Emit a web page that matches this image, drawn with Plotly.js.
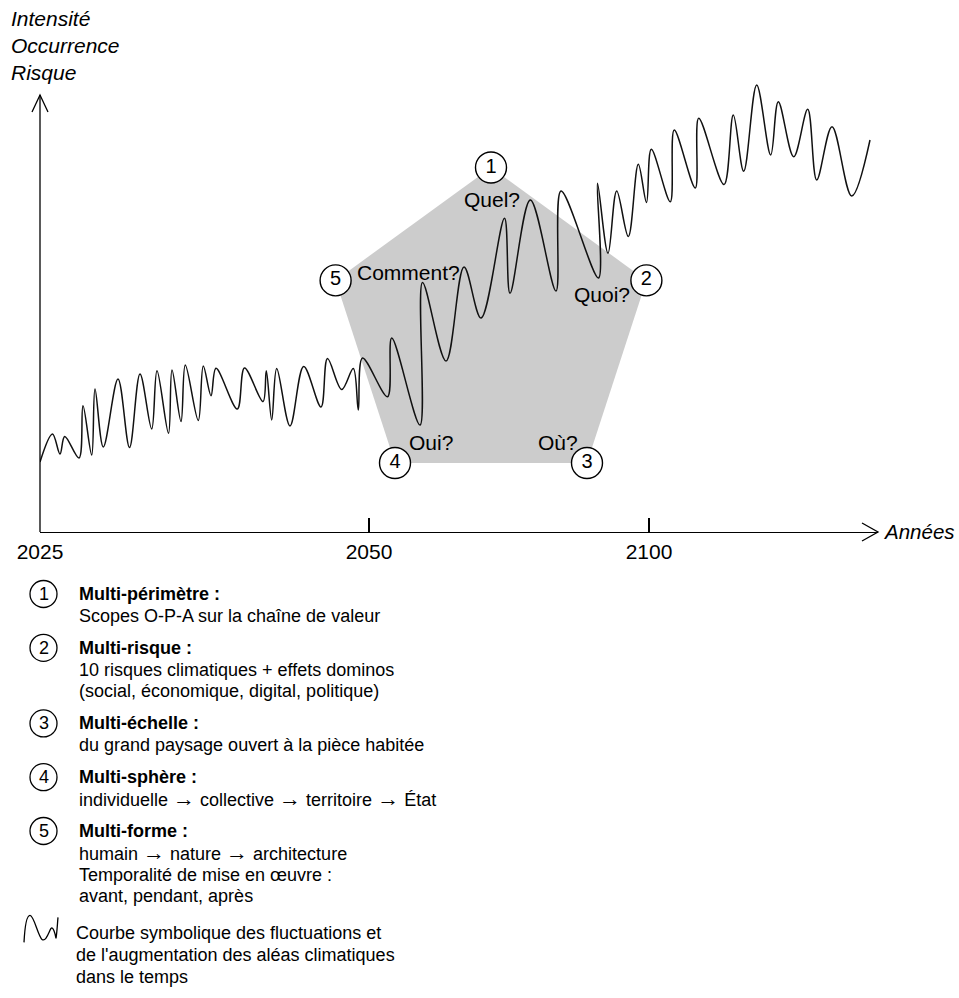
<!DOCTYPE html>
<html><head><meta charset="utf-8">
<script src="https://cdn.plot.ly/plotly-3.0.1.min.js"></script>
<style>html,body{margin:0;padding:0;background:#fff}</style>
</head><body><div id="chart" style="width:959px;height:998px"></div>
<script>
// ---- data (symbolic units) ----
const curveX = [0,12.5,20,24.7,39,43,51.7,55,63.3,78,89.5,100,111.7,117,128.5,132,141,145.3,158.3,163.3,171,176,197.3,204.5,223,226.3,231.7,236.7,250,263.7,281,287.5,301.7,313.3,318.3,322.5,347.5,351.7,380,382.5,406,424,441,464.5,470,490.3,516,521,558.5,557.5,568,576.7,588.3,598.3,606.5,611.3,630.3,634.2,655.3,658.7,684,693.3,703.7,716.7,730.7,738.3,753.7,767.7,776.7,792,811.7,830];
const curveY = [70,98,78,95.5,74,126.3,77,143,85,153,84.5,158,103,161.3,98.7,162,110.5,167,111.5,166,136.3,163.7,123,164,130.5,161.3,112,163.5,106,165.5,125,173.5,142.5,163.5,122,174,135.3,194,107,249.5,171,265,214,313.7,238.7,332,241,341,254,348.7,278.7,341,295.5,367.8,329.5,382.7,330.3,402,344,413.7,347.5,417,360.8,447,377,430.3,375.3,422.7,352,405.3,336,392];
const pentagonX = [451, 606.4, 547, 355, 295.6];
const pentagonY = [364.5, 251.6, 69, 69, 251.6];
const vertexNumbers = ['1','2','3','4','5'];
const vertexQuestions = ['Quel?','Quoi?','Où?','Oui?','Comment?'];
const tickVals = [0, 329, 609];
const tickLabels = ['2025','2050','2100'];
const yTitleLines = ['Intensité','Occurrence','Risque'];
const xTitle = 'Années';
const legendHeads = ['Multi-périmètre :','Multi-risque :','Multi-échelle :','Multi-sphère :','Multi-forme :'];
const legendLines = [
  ['Scopes O-P-A sur la chaîne de valeur'],
  ['10 risques climatiques + effets dominos','(social, économique, digital, politique)'],
  ['du grand paysage ouvert à la pièce habitée'],
  ['individuelle → collective → territoire → État'],
  ['humain → nature → architecture','Temporalité de mise en œuvre :','avant, pendant, après']
];
const curveNote = ['Courbe symbolique des fluctuations et',"de l'augmentation des aléas climatiques",'dans le temps'];

// ---- layout helpers (pixel -> paper) ----
const L = 40, R = 878, B = 532, T = 60;
const PX = p => (p - L) / (R - L);
const PY = p => (B - p) / (B - T);
const FONT = 'Liberation Sans, Arial, sans-serif';
const arrowFix = s => s.replace(/→/g, '<span style="font-size:22px">→</span>');

const traces = [
  {x: pentagonX, y: pentagonY, type: 'scatter', mode: 'lines', fill: 'toself',
   fillcolor: '#cccccc', line: {width: 0, color: 'rgba(0,0,0,0)'}, hoverinfo: 'skip', showlegend: false},
  {x: curveX, y: curveY, type: 'scatter', mode: 'lines',
   line: {color: '#111', width: 1.5, shape: 'spline', smoothing: 1}, hoverinfo: 'skip', showlegend: false},
  {x: pentagonX, y: pentagonY, type: 'scatter', mode: 'markers+text', text: vertexNumbers,
   textposition: 'middle center', textfont: {family: FONT, size: 20, color: '#000'},
   marker: {size: 31, color: '#fff', line: {color: '#000', width: 1.4}}, cliponaxis: false,
   hoverinfo: 'skip', showlegend: false}
];

const ann = [];
const shapes = [];
const qPos = [[452, 333], [562, 238], [518, 90], [391, 90], [368, 260]];
vertexQuestions.forEach((q, i) => ann.push({x: qPos[i][0], y: qPos[i][1], xref: 'x', yref: 'y', text: q,
  xanchor: 'center', yanchor: 'middle', showarrow: false, font: {family: FONT, size: 21, color: '#000'}}));
yTitleLines.forEach((t, i) => ann.push({x: PX(9), y: PY(19 + i * 26.5), xref: 'paper', yref: 'paper', text: '<i>' + t + '</i>',
  xanchor: 'left', yanchor: 'middle', showarrow: false, font: {family: FONT, size: 21, color: '#000'}}));
ann.push({x: PX(881), y: PY(531), xref: 'paper', yref: 'paper', text: '<i>' + xTitle + '</i>', xanchor: 'left', yanchor: 'middle',
  showarrow: false, font: {family: FONT, size: 20.5, color: '#000'}});
shapes.push({type: 'line', xref: 'paper', yref: 'paper', x0: 0, x1: 0, y0: 0, y1: PY(95), line: {color: '#000', width: 1.3}});
shapes.push({type: 'path', xref: 'paper', yref: 'paper', path: `M ${PX(32)},${PY(112)} L ${PX(40)},${PY(95)} L ${PX(48)},${PY(112)}`, line: {color: '#000', width: 1.3}});
shapes.push({type: 'path', xref: 'paper', yref: 'paper', path: `M ${PX(862)},${PY(523)} L ${PX(878)},${PY(532)} L ${PX(862)},${PY(541)}`, line: {color: '#000', width: 1.3}});

const lineGap = 21.8, headGap = 32, noteGap = 37;
let cy = 594;
legendHeads.forEach((h, i) => {
  shapes.push({type: 'circle', xref: 'paper', yref: 'paper', x0: PX(43.5 - 13.5), x1: PX(43.5 + 13.5), y0: PY(cy + 13.5), y1: PY(cy - 13.5),
    line: {color: '#000', width: 1.3}, fillcolor: '#fff'});
  ann.push({x: PX(43.5), y: PY(cy), xref: 'paper', yref: 'paper', text: String(i + 1), showarrow: false,
    xanchor: 'center', yanchor: 'middle', font: {family: FONT, size: 18, color: '#000'}});
  ann.push({x: PX(77), y: PY(cy), xref: 'paper', yref: 'paper', text: '<b>' + h + '</b>', xanchor: 'left', yanchor: 'middle',
    showarrow: false, font: {family: FONT, size: 18, color: '#000'}});
  legendLines[i].forEach((t, j) => ann.push({x: PX(77), y: PY(cy + (j + 1) * lineGap), xref: 'paper', yref: 'paper', text: arrowFix(t),
    xanchor: 'left', yanchor: 'middle', showarrow: false, font: {family: FONT, size: 18, color: '#000'}}));
  cy += legendLines[i].length * lineGap + (i < legendHeads.length - 1 ? headGap : noteGap);
});
const noteY = cy;
curveNote.forEach((t, j) => ann.push({x: PX(74), y: PY(noteY + j * lineGap), xref: 'paper', yref: 'paper', text: t,
  xanchor: 'left', yanchor: 'middle', showarrow: false, font: {family: FONT, size: 18, color: '#000'}}));
const iy = noteY - 931;
shapes.push({type: 'path', xref: 'paper', yref: 'paper', line: {color: '#000', width: 1.3},
  path: `M ${PX(24)},${PY(940+iy)} C ${PX(25)},${PY(921+iy)} ${PX(27)},${PY(913+iy)} ${PX(30)},${PY(913+iy)} C ${PX(34)},${PY(913+iy)} ${PX(38)},${PY(934+iy)} ${PX(42)},${PY(937+iy)} C ${PX(46)},${PY(940+iy)} ${PX(49)},${PY(929+iy)} ${PX(51)},${PY(926+iy)} C ${PX(53)},${PY(924+iy)} ${PX(55)},${PY(930+iy)} ${PX(56)},${PY(936+iy)} C ${PX(57)},${PY(930+iy)} ${PX(57.5)},${PY(920+iy)} ${PX(58)},${PY(915+iy)}`});

const layout = {
  width: 959, height: 998,
  margin: {l: L, r: 959 - R, t: T, b: 998 - B, pad: 0},
  paper_bgcolor: '#fff', plot_bgcolor: 'rgba(0,0,0,0)',
  showlegend: false,
  xaxis: {range: [0, R - L], showgrid: false, zeroline: false, showline: true, linecolor: '#000', linewidth: 1.3,
    ticks: 'inside', ticklen: 14, tickwidth: 1.3, tickcolor: '#000', tickvals: tickVals, ticktext: tickLabels,
    tickfont: {family: FONT, size: 21, color: '#000'}, fixedrange: true},
  yaxis: {range: [0, B - T], showgrid: false, zeroline: false, showline: false, showticklabels: false, ticks: '', fixedrange: true},
  annotations: ann, shapes: shapes
};
Plotly.newPlot('chart', traces, layout, {displayModeBar: false, staticPlot: true});
</script></body></html>
